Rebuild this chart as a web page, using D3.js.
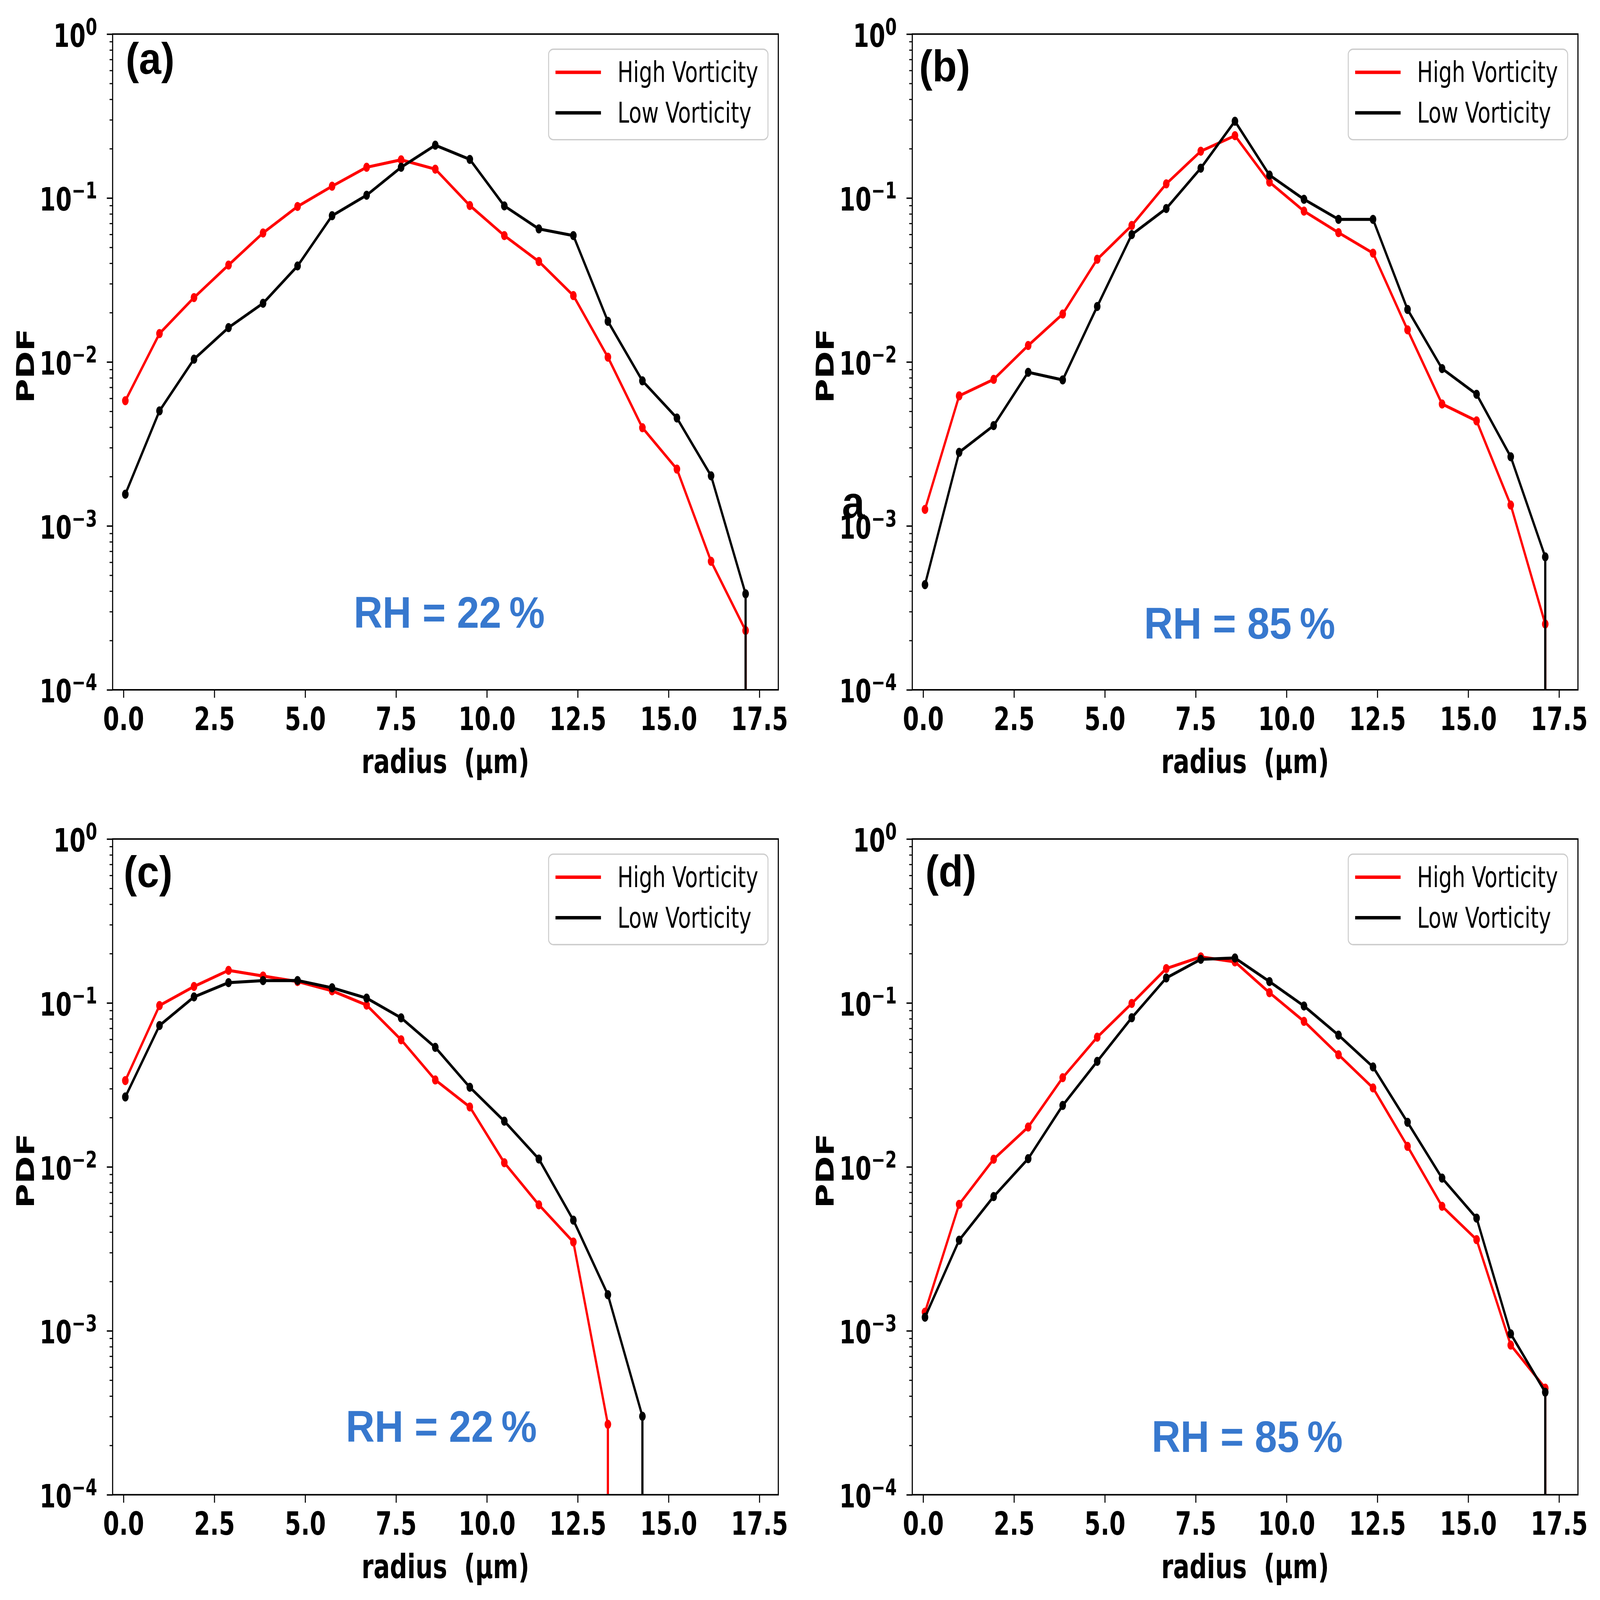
<!DOCTYPE html>
<html>
<head>
<meta charset="utf-8">
<script src="https://cdn.jsdelivr.net/npm/d3@7"></script>
<style>
  html, body { margin: 0; padding: 0; background: #fff; overflow: hidden; }
  svg { display: block; width: 100vw; height: 100vh; }
</style>
</head>
<body>
<div id="chart"></div>
<script>
/* global d3 */

// data: bin centres (µm) and PDF values (0 = empty bin)
const radius = [0.05, 0.99, 1.94, 2.89, 3.84, 4.79, 5.74, 6.69, 7.64, 8.58, 9.53, 10.48, 11.43, 12.38, 13.33, 14.28, 15.23, 16.17, 17.12];

const highA = [5.8e-3, 0.0149, 0.0247, 0.039, 0.0612, 0.0888, 0.118, 0.154, 0.171, 0.150, 0.090, 0.059, 0.041, 0.0254, 0.0107, 3.97e-3, 2.22e-3, 6.08e-4, 2.3e-4];
const lowA = [1.56e-3, 5.03e-3, 0.0104, 0.0162, 0.0228, 0.0385, 0.078, 0.104, 0.154, 0.21, 0.172, 0.0895, 0.0648, 0.059, 0.0177, 7.67e-3, 4.55e-3, 2.02e-3, 3.85e-4];

const highB = [1.26e-3, 6.21e-3, 7.83e-3, 0.0126, 0.0196, 0.0423, 0.068, 0.122, 0.193, 0.240, 0.125, 0.0832, 0.0615, 0.0461, 0.0157, 5.54e-3, 4.37e-3, 1.34e-3, 2.52e-4];
const lowB = [4.38e-4, 2.81e-3, 4.09e-3, 8.65e-3, 7.77e-3, 0.0218, 0.0598, 0.0863, 0.152, 0.294, 0.138, 0.0982, 0.0741, 0.0741, 0.0209, 9.11e-3, 6.35e-3, 2.64e-3, 6.47e-4];

const highC = [0.0336, 0.0964, 0.126, 0.158, 0.146, 0.135, 0.1186, 0.097, 0.0596, 0.0339, 0.0232, 0.0106, 5.87e-3, 3.48e-3, 2.69e-4, 0, 0, 0, 0];
const lowC = [0.0267, 0.0728, 0.1088, 0.133, 0.1368, 0.137, 0.1237, 0.107, 0.0811, 0.0536, 0.0306, 0.019, 0.01117, 4.73e-3, 1.66e-3, 3.01e-4, 0, 0, 0];

const highD = [1.30e-3, 5.91e-3, 0.01114, 0.0175, 0.035, 0.0618, 0.0993, 0.162, 0.191, 0.178, 0.1155, 0.0772, 0.0483, 0.0303, 0.01334, 5.75e-3, 3.6e-3, 8.18e-4, 4.47e-4];
const lowD = [1.21e-3, 3.57e-3, 6.59e-3, 0.01122, 0.0237, 0.044, 0.0812, 0.142, 0.1845, 0.188, 0.135, 0.0958, 0.0636, 0.0407, 0.0187, 8.54e-3, 4.87e-3, 9.58e-4, 4.22e-4];

const seriesNames = ['High Vorticity', 'Low Vorticity'];
const panelTags = ['(a)', '(b)', '(c)', '(d)'];
const rhLabels = ['RH = 22\u2009%', 'RH = 85\u2009%', 'RH = 22\u2009%', 'RH = 85\u2009%'];
const xTicks = [0, 2.5, 5, 7.5, 10, 12.5, 15, 17.5];
const yTicks = [1e-4, 1e-3, 1e-2, 1e-1, 1];

// dimensions (the whole matplotlib part is squashed horizontally)
const SX = 0.8;
const FIG_W = 4646;
const FIG_H = 4226;
const COL_LEFT = [327, 2649];
const ROW_TOP = [90, 2216];
const PANEL_W = 1933;
const PANEL_H = 1732;
const X_DOMAIN = [-0.30, 18.02];
const Y_DOMAIN = [1e-4, 1];
const COLORS = ['#ff0000', '#000000'];
const MPL_FONT = "'DejaVu Sans', 'Noto Sans', sans-serif";
const ARIAL = "'Liberation Sans', Arial, sans-serif";
const TICK_FONT = 84;
const LABEL_FONT = 88;
const LEGEND_FONT = 76;
const LINE_W = 8;
const MARKER_R = 12;

// per-panel placement of the pasted-on annotations (real pixels, from panel corner)
const PANELS = [
  { col: 0, row: 0, high: highA, low: lowA, tag: [38, 105], rh: [700, 1568] },
  { col: 1, row: 0, high: highB, low: lowB, tag: [20, 125], rh: [673, 1597] },
  { col: 0, row: 1, high: highC, low: lowC, tag: [32, 127], rh: [677, 1592] },
  { col: 1, row: 1, high: highD, low: lowD, tag: [38, 125], rh: [695, 1619] },
];

// fill the whole window, like the reference fills its frame
const svg = d3.select('#chart').append('svg')
  .attr('viewBox', `0 0 ${FIG_W} ${FIG_H}`)
  .attr('preserveAspectRatio', 'none');

svg.append('rect').attr('width', FIG_W).attr('height', FIG_H).attr('fill', '#fff');

const $fig = svg.append('g').attr('transform', `scale(${SX},1)`);
const $notes = svg.append('g');

const supText = d => {
  const e = Math.round(Math.log10(d));
  return e < 0 ? `\u2212${-e}` : `${e}`;
};

PANELS.forEach((p, i) => {
  const left = COL_LEFT[p.col];
  const top = ROW_TOP[p.row];
  const w = PANEL_W / SX;
  const h = PANEL_H;

  const scaleX = d3.scaleLinear().domain(X_DOMAIN).range([0, w]);
  const scaleY = d3.scaleLog().domain(Y_DOMAIN).range([h, 0]);

  const $g = $fig.append('g').attr('transform', `translate(${left / SX},${top})`);

  $g.append('clipPath').attr('id', `clip-${i}`)
    .append('rect').attr('width', w).attr('height', h);

  // series: line (dropping to the floor after the last non-empty bin) + markers
  const line = d3.line().x(d => scaleX(d.r)).y(d => scaleY(d.v));
  [p.high, p.low].forEach((vals, s) => {
    const pts = vals.map((v, k) => ({ r: radius[k], v })).filter(d => d.v > 0);
    const $s = $g.append('g').attr('class', 'series');
    $s.append('path')
      .attr('clip-path', `url(#clip-${i})`)
      .attr('d', `${line(pts)}V${h + 40}`)
      .attr('fill', 'none')
      .attr('stroke', COLORS[s])
      .attr('stroke-width', LINE_W)
      .attr('stroke-linejoin', 'round');
    $s.selectAll('circle')
      .data(pts)
      .join('circle')
      .attr('cx', d => scaleX(d.r))
      .attr('cy', d => scaleY(d.v))
      .attr('r', MARKER_R)
      .attr('fill', COLORS[s]);
  });

  // x axis
  const $xAxis = $g.append('g')
    .attr('transform', `translate(0,${h})`)
    .call(d3.axisBottom(scaleX).tickValues(xTicks).tickSize(21).tickFormat(d3.format('.1f')));
  $xAxis.select('.domain').remove();
  $xAxis.selectAll('line').attr('stroke', '#000').attr('stroke-width', 3.75);
  $xAxis.selectAll('text')
    .attr('y', 106)
    .attr('dy', null)
    .attr('fill', '#000')
    .attr('font-family', MPL_FONT)
    .attr('font-weight', 'bold')
    .attr('font-size', TICK_FONT);

  // y axis: minor ticks
  const minor = scaleY.ticks().filter(d => Math.abs(Math.log10(d) - Math.round(Math.log10(d))) > 1e-6);
  const $yMinor = $g.append('g')
    .call(d3.axisLeft(scaleY).tickValues(minor).tickSize(11).tickFormat(''));
  $yMinor.select('.domain').remove();
  $yMinor.selectAll('line').attr('stroke', '#000').attr('stroke-width', 3);

  // y axis: decades with 10^n labels
  const $yAxis = $g.append('g')
    .call(d3.axisLeft(scaleY).tickValues(yTicks).tickSize(21).tickFormat(''));
  $yAxis.select('.domain').remove();
  $yAxis.selectAll('line').attr('stroke', '#000').attr('stroke-width', 3.75);
  const $yText = $yAxis.selectAll('.tick text')
    .attr('x', -45 / SX)
    .attr('y', 33)
    .attr('dy', null)
    .attr('text-anchor', 'end')
    .attr('fill', '#000')
    .attr('font-family', MPL_FONT)
    .attr('font-weight', 'bold')
    .attr('font-size', TICK_FONT);
  $yText.append('tspan').text('10');
  $yText.append('tspan')
    .attr('dy', -32)
    .attr('font-size', 60)
    .text(d => supText(d));

  // frame
  $g.append('rect')
    .attr('width', w)
    .attr('height', h)
    .attr('fill', 'none')
    .attr('stroke', '#000')
    .attr('stroke-width', 4);

  // axis labels
  $g.append('text')
    .attr('x', w / 2)
    .attr('y', h + 220)
    .attr('text-anchor', 'middle')
    .style('white-space', 'pre')
    .attr('font-family', MPL_FONT)
    .attr('font-weight', 'bold')
    .attr('font-size', LABEL_FONT)
    .text('radius  (µm)');

  $g.append('text')
    .attr('transform', `translate(${-228 / SX},${h / 2 + 10}) rotate(-90)`)
    .attr('text-anchor', 'middle')
    .attr('font-family', MPL_FONT)
    .attr('font-weight', 'bold')
    .attr('font-size', LABEL_FONT)
    .text('PDF');

  // legend
  const boxW = 637;
  const boxH = 239;
  const boxX = (PANEL_W - 30 - boxW) / SX;
  const boxY = 40;
  const $legend = $g.append('g').attr('transform', `translate(${boxX},${boxY})`);
  $legend.append('rect')
    .attr('width', boxW / SX)
    .attr('height', boxH)
    .attr('rx', 14 / SX)
    .attr('ry', 14)
    .attr('fill', '#fff')
    .attr('fill-opacity', 0.8)
    .attr('stroke', '#cccccc')
    .attr('stroke-width', 3.5);
  seriesNames.forEach((name, s) => {
    const ly = 61 + s * 107;
    $legend.append('line')
      .attr('x1', 20 / SX)
      .attr('x2', 152 / SX)
      .attr('y1', ly)
      .attr('y2', ly)
      .attr('stroke', COLORS[s])
      .attr('stroke-width', LINE_W + 1);
    $legend.append('text')
      .attr('x', 200 / SX)
      .attr('y', ly + 26)
      .attr('font-family', MPL_FONT)
      .attr('font-size', LEGEND_FONT)
      .attr('fill', '#000')
      .text(name);
  });

  // annotations added on top of the figure (not squashed)
  $notes.append('text')
    .attr('x', left + p.tag[0])
    .attr('y', top + p.tag[1])
    .attr('font-family', ARIAL)
    .attr('font-weight', 'bold')
    .attr('font-size', 116)
    .attr('fill', '#000')
    .text(panelTags[i]);

  $notes.append('text')
    .attr('x', left + p.rh[0])
    .attr('y', top + p.rh[1])
    .attr('font-family', ARIAL)
    .attr('font-weight', 'bold')
    .attr('font-size', 116)
    .attr('fill', '#3778ce')
    .text(rhLabels[i]);
});

// stray letter left over next to panel (b)'s y axis
$notes.append('text')
  .attr('x', 2445)
  .attr('y', 1368)
  .attr('font-family', ARIAL)
  .attr('font-weight', 'bold')
  .attr('font-size', 118)
  .attr('fill', '#000')
  .text('a');
</script>
</body>
</html>
